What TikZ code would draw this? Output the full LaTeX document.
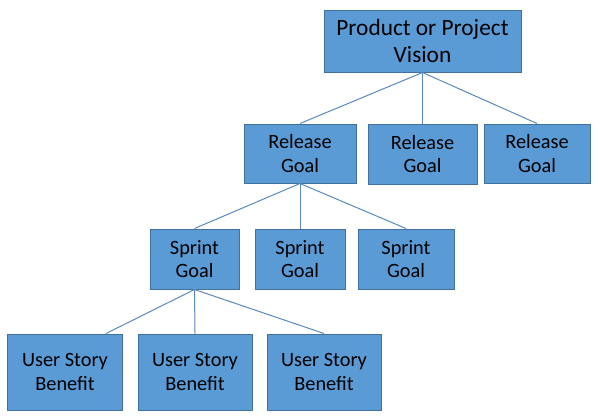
\documentclass[tikz,border=0pt]{standalone}
\usepackage{fontspec}
\setmainfont{Carlito}
\definecolor{boxfill}{HTML}{5B9BD5}
\definecolor{boxline}{HTML}{41719C}
\definecolor{conn}{HTML}{5A8AC0}
\begin{document}
\begin{tikzpicture}[x=1bp,y=-1bp,
  box/.style={draw=boxline,fill=boxfill,line width=1bp,inner sep=0pt,align=center,
    text=black,font=\fontsize{20.4}{23.5}\selectfont},
  bigbox/.style={box,font=\fontsize{23.4}{28}\selectfont},
  link/.style={draw=conn,line width=1bp}]
\useasboundingbox (0,0) rectangle (603,418);
\fill[white] (0,0) rectangle (603,418);
\node[bigbox,minimum width=197bp,minimum height=62bp] (v) at (422.5,41) {Product or Project\\Vision};
\node[box,minimum width=112bp,minimum height=59bp] (r1) at (300,153.5) {Release\\Goal};
\node[box,minimum width=109bp,minimum height=60bp] (r2) at (422.5,154) {Release\\Goal};
\node[box,minimum width=106bp,minimum height=59bp] (r3) at (537,153.5) {Release\\Goal};
\node[box,minimum width=89bp,minimum height=60bp] (s1) at (194.5,259) {Sprint\\Goal};
\node[box,minimum width=90bp,minimum height=60bp] (s2) at (300,259) {Sprint\\Goal};
\node[box,minimum width=96bp,minimum height=60bp] (s3) at (406,259) {Sprint\\Goal};
\node[box,minimum width=114bp,minimum height=76bp] (u1) at (65,372) {User Story\\Benefit};
\node[box,minimum width=114bp,minimum height=76bp] (u2) at (195,372) {User Story\\Benefit};
\node[box,minimum width=114bp,minimum height=76bp] (u3) at (324,372) {User Story\\Benefit};
\coordinate (u1t) at ([xshift=41bp]u1.north);
\draw[link] (v.south) -- (r1.north);
\draw[link] (v.south) -- (r2.north);
\draw[link] (v.south) -- (r3.north);
\draw[link] (r1.south) -- (s1.north);
\draw[link] (r1.south) -- (s2.north);
\draw[link] (r1.south) -- (s3.north);
\draw[link] (s1.south) -- (u1t);
\draw[link] (s1.south) -- (u2.north);
\draw[link] (s1.south) -- (u3.north);
\end{tikzpicture}
\end{document}
